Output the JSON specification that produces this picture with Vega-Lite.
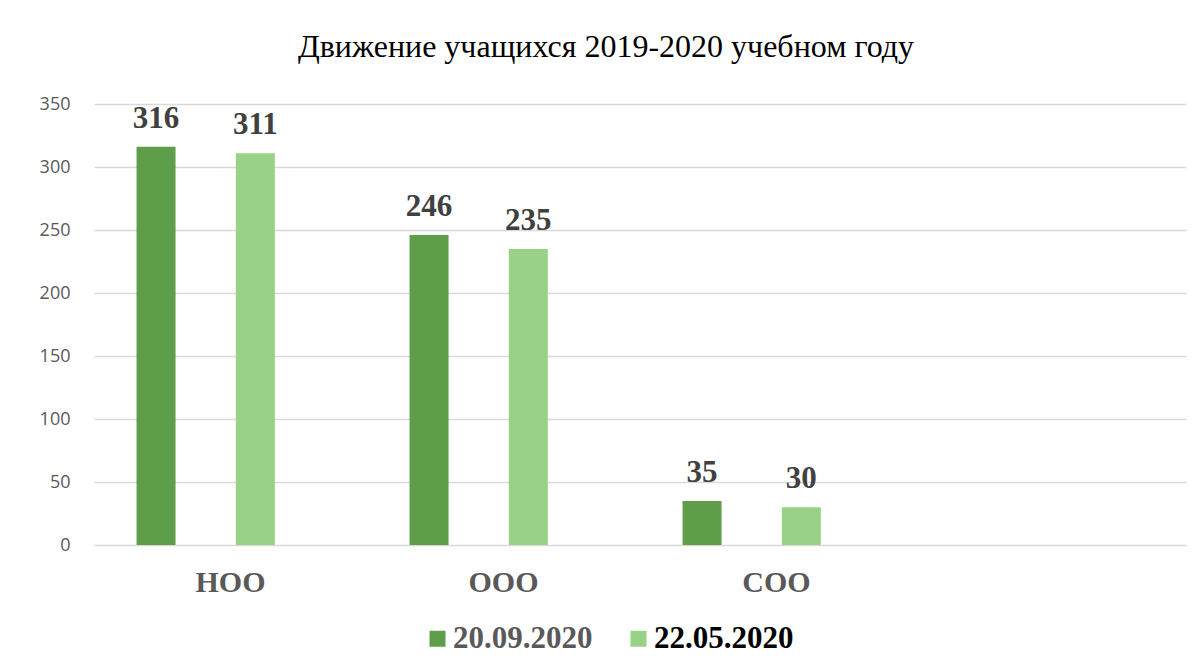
{
  "$schema": "https://vega.github.io/schema/vega-lite/v6.json",
  "autosize": "none",
  "width": 1092,
  "height": 441,
  "padding": {"left": 94, "top": 104, "right": 14, "bottom": 127},
  "background": "white",
  "title": {
    "text": "Движение учащихся 2019-2020 учебном году",
    "font": "Liberation Serif",
    "fontSize": 32,
    "fontWeight": "normal",
    "color": "#000000",
    "anchor": "middle",
    "baseline": "alphabetic",
    "dx": -34,
    "offset": 6
  },
  "data": {
    "values": [
      {"level": "НОО", "date": "20.09.2020", "count": 316},
      {"level": "НОО", "date": "22.05.2020", "count": 311},
      {"level": "ООО", "date": "20.09.2020", "count": 246},
      {"level": "ООО", "date": "22.05.2020", "count": 235},
      {"level": "СОО", "date": "20.09.2020", "count": 35},
      {"level": "СОО", "date": "22.05.2020", "count": 30}
    ]
  },
  "encoding": {
    "x": {
      "field": "level",
      "type": "nominal",
      "sort": null,
      "scale": {"domain": ["НОО", "ООО", "СОО", " "], "paddingInner": 0, "paddingOuter": 0},
      "axis": {
        "title": null,
        "labelAngle": 0,
        "domain": false,
        "ticks": false,
        "labelFont": "Liberation Serif",
        "labelFontWeight": "bold",
        "labelFontSize": 30,
        "labelColor": "#595959",
        "labelPadding": 22
      }
    },
    "xOffset": {
      "field": "date",
      "type": "nominal",
      "scale": {
        "domain": ["a", "b", "20.09.2020", "c", "d", "e", "22.05.2020", "f", "g", "h", "i"],
        "paddingInner": 0,
        "paddingOuter": 0
      }
    },
    "y": {
      "field": "count",
      "type": "quantitative",
      "scale": {"domain": [0, 350]},
      "axis": {
        "title": null,
        "values": [0, 50, 100, 150, 200, 250, 300, 350],
        "domain": false,
        "ticks": false,
        "grid": true,
        "gridColor": "#d9d9d9",
        "gridWidth": 1.5,
        "labelFont": "Open Sans",
        "labelFontSize": 18,
        "labelColor": "#595959",
        "labelPadding": 24
      }
    }
  },
  "layer": [
    {
      "mark": {"type": "bar", "width": 39},
      "encoding": {
        "color": {
          "field": "date",
          "type": "nominal",
          "scale": {"domain": ["20.09.2020", "22.05.2020"], "range": ["#5e9e4a", "#99d186"]},
          "legend": {
            "title": null,
            "orient": "none",
            "direction": "horizontal",
            "legendX": 328,
            "legendY": 519,
            "symbolType": "square",
            "symbolSize": 256,
            "symbolStrokeWidth": 0,
            "labelFont": "Liberation Serif",
            "labelFontWeight": "bold",
            "labelFontSize": 31,
            "labelColor": "#595959",
            "labelOffset": 0,
            "columnPadding": 30,
            "labelLimit": 400,
            "encode": {
              "labels": {
                "update": {
                  "fill": {"signal": "datum.label == '22.05.2020' ? '#000000' : '#595959'"}
                }
              }
            }
          }
        }
      }
    },
    {
      "mark": {
        "type": "text",
        "baseline": "alphabetic",
        "dy": -19,
        "font": "Liberation Serif",
        "fontWeight": "bold",
        "fontSize": 31,
        "color": "#404040"
      },
      "encoding": {
        "text": {"field": "count", "type": "quantitative"}
      }
    }
  ],
  "config": {
    "view": {"stroke": null}
  }
}
